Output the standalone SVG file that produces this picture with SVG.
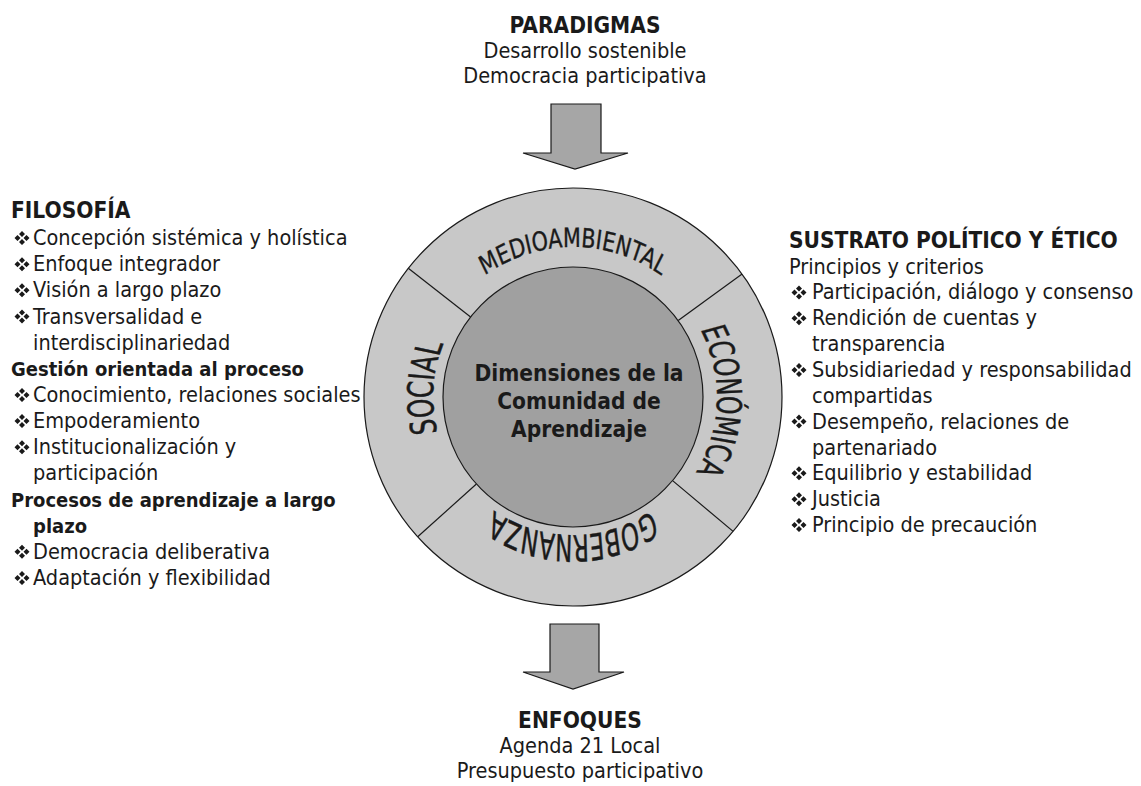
<svg xmlns="http://www.w3.org/2000/svg" width="1141" height="786" viewBox="0 0 1141 786">
<style>
text { font-family: "DejaVu Sans Condensed", "DejaVu Sans", sans-serif; font-stretch: condensed; fill: #1a1a1a; }
.r { font-size: 21.5px; }
.h { font-size: 22.5px; font-weight: bold; }
.sb { font-size: 20px; font-weight: bold; }
.c { text-anchor: middle; }
.arc { stroke: #1a1a1a; stroke-width: 0.3; }
.ring { fill: #c8c8c8; stroke: #1a1a1a; stroke-width: 1.2; }
.core { fill: #a0a0a0; stroke: #1a1a1a; stroke-width: 1.2; }
.div { stroke: #1a1a1a; stroke-width: 1.2; }
.arrow { fill: #a6a6a6; stroke: #1a1a1a; stroke-width: 1.2; stroke-linejoin: miter; }
.bul { fill: #1a1a1a; }
</style>
<defs>
<path id="bul" d="M0,-7 L3,-4 L0,-1 L-3,-4 Z M0,1 L3,4 L0,7 L-3,4 Z M-7.5,0 L-4.5,-3 L-1.5,0 L-4.5,3 Z M1.5,0 L4.5,-3 L7.5,0 L4.5,3 Z"/>
<path id="pS" d="M0,140 A107.7,140 0 0,1 0,-140"/>
<path id="pE" d="M0,-144 A110.8,144 0 0,1 0,144"/>
<path id="pG" d="M138,0 A138,95.2 0 0,1 -138,0"/>
<path id="pM" d="M-150,0 A150,130.4 0 0,1 150,0"/>
</defs>

<g id="filosofia">
<text class="h" x="11" y="218">FILOSOFÍA</text>
<use class="bul" href="#bul" x="22" y="238"/><text class="r" x="33" y="245">Concepción sistémica y holística</text>
<use class="bul" href="#bul" x="22" y="264.2"/><text class="r" x="33" y="271.2">Enfoque integrador</text>
<use class="bul" href="#bul" x="22" y="290.3"/><text class="r" x="33" y="297.3">Visión a largo plazo</text>
<use class="bul" href="#bul" x="22" y="316.5"/><text class="r" x="33" y="323.5">Transversalidad e</text>
<text class="r" x="33" y="349.6">interdisciplinariedad</text>
<text class="sb" x="11" y="375.8">Gestión orientada al proceso</text>
<use class="bul" href="#bul" x="22" y="394.9"/><text class="r" x="33" y="401.9">Conocimiento, relaciones sociales</text>
<use class="bul" href="#bul" x="22" y="421.1"/><text class="r" x="33" y="428.1">Empoderamiento</text>
<use class="bul" href="#bul" x="22" y="447.2"/><text class="r" x="33" y="454.2">Institucionalización y</text>
<text class="r" x="33" y="480.4">participación</text>
<text class="sb" x="11" y="506.5">Procesos de aprendizaje a largo</text>
<text class="sb" x="33" y="532.7">plazo</text>
<use class="bul" href="#bul" x="22" y="551.8"/><text class="r" x="33" y="558.8">Democracia deliberativa</text>
<use class="bul" href="#bul" x="22" y="578"/><text class="r" x="33" y="585">Adaptación y flexibilidad</text>
</g>

<g id="dimensiones">
<circle class="ring" cx="573" cy="397" r="209"/>
<line class="div" x1="470.6" y1="317" x2="408.3" y2="268.3"/>
<line class="div" x1="678.2" y1="320.6" x2="742.1" y2="274.1"/>
<line class="div" x1="672.6" y1="480.6" x2="733.1" y2="531.4"/>
<line class="div" x1="476.4" y1="484" x2="417.7" y2="536.8"/>
<circle class="core" cx="573" cy="397" r="130"/>
<text class="h c" style="font-size:22.5px" x="579" y="381">Dimensiones de la</text>
<text class="h c" style="font-size:22.5px" x="579" y="409">Comunidad de</text>
<text class="h c" style="font-size:22.5px" x="579" y="437">Aprendizaje</text>
</g>

<g id="medioambiental" transform="translate(573,397) scale(1,1.15)"><text class="arc c" style="font-size:23px"><textPath href="#pM" startOffset="50%">MEDIOAMBIENTAL</textPath></text></g>
<g id="social" transform="translate(573,397) scale(1.3,1)"><text class="arc c" style="font-size:27.5px"><textPath href="#pS" startOffset="204">SOCIAL</textPath></text></g>
<g id="economica" transform="translate(573,397) scale(1.3,1)"><text class="arc c" style="font-size:26.5px"><textPath href="#pE" startOffset="205">ECONÓMICA</textPath></text></g>
<g id="gobernanza" transform="translate(573,397) scale(1,1.45)"><text class="arc c" style="font-size:25.5px"><textPath href="#pG" startOffset="50%">GOBERNANZA</textPath></text></g>

<g id="sustrato">
<text class="h" x="789" y="248">SUSTRATO POLÍTICO Y ÉTICO</text>
<text class="r" x="789" y="273.5">Principios y criterios</text>
<use class="bul" href="#bul" x="799" y="292.4"/><text class="r" x="812" y="299.4">Participación, diálogo y consenso</text>
<use class="bul" href="#bul" x="799" y="318.2"/><text class="r" x="812" y="325.2">Rendición de cuentas y</text>
<text class="r" x="812" y="351">transparencia</text>
<use class="bul" href="#bul" x="799" y="369.9"/><text class="r" x="812" y="376.9">Subsidiariedad y responsabilidad</text>
<text class="r" x="812" y="402.8">compartidas</text>
<use class="bul" href="#bul" x="799" y="421.6"/><text class="r" x="812" y="428.6">Desempeño, relaciones de</text>
<text class="r" x="812" y="454.5">partenariado</text>
<use class="bul" href="#bul" x="799" y="473.3"/><text class="r" x="812" y="480.3">Equilibrio y estabilidad</text>
<use class="bul" href="#bul" x="799" y="499.2"/><text class="r" x="812" y="506.2">Justicia</text>
<use class="bul" href="#bul" x="799" y="525"/><text class="r" x="812" y="532">Principio de precaución</text>
</g>

<g id="paradigmas">
<text class="h c" x="585" y="33">PARADIGMAS</text>
<text class="r c" x="585" y="58">Desarrollo sostenible</text>
<text class="r c" x="585" y="83">Democracia participativa</text>
</g>

<g id="enfoques">
<text class="h c" x="580" y="728">ENFOQUES</text>
<text class="r c" x="580" y="753">Agenda 21 Local</text>
<text class="r c" x="580" y="778">Presupuesto participativo</text>
</g>

<g id="connectors">
<polygon class="arrow" points="551,104 601,104 601,153 628,153 575,169 523,153 551,153"/>
<polygon class="arrow" points="550,624 599,624 599,672 624,672 573,689 523,672 550,672"/>
</g>
</svg>
